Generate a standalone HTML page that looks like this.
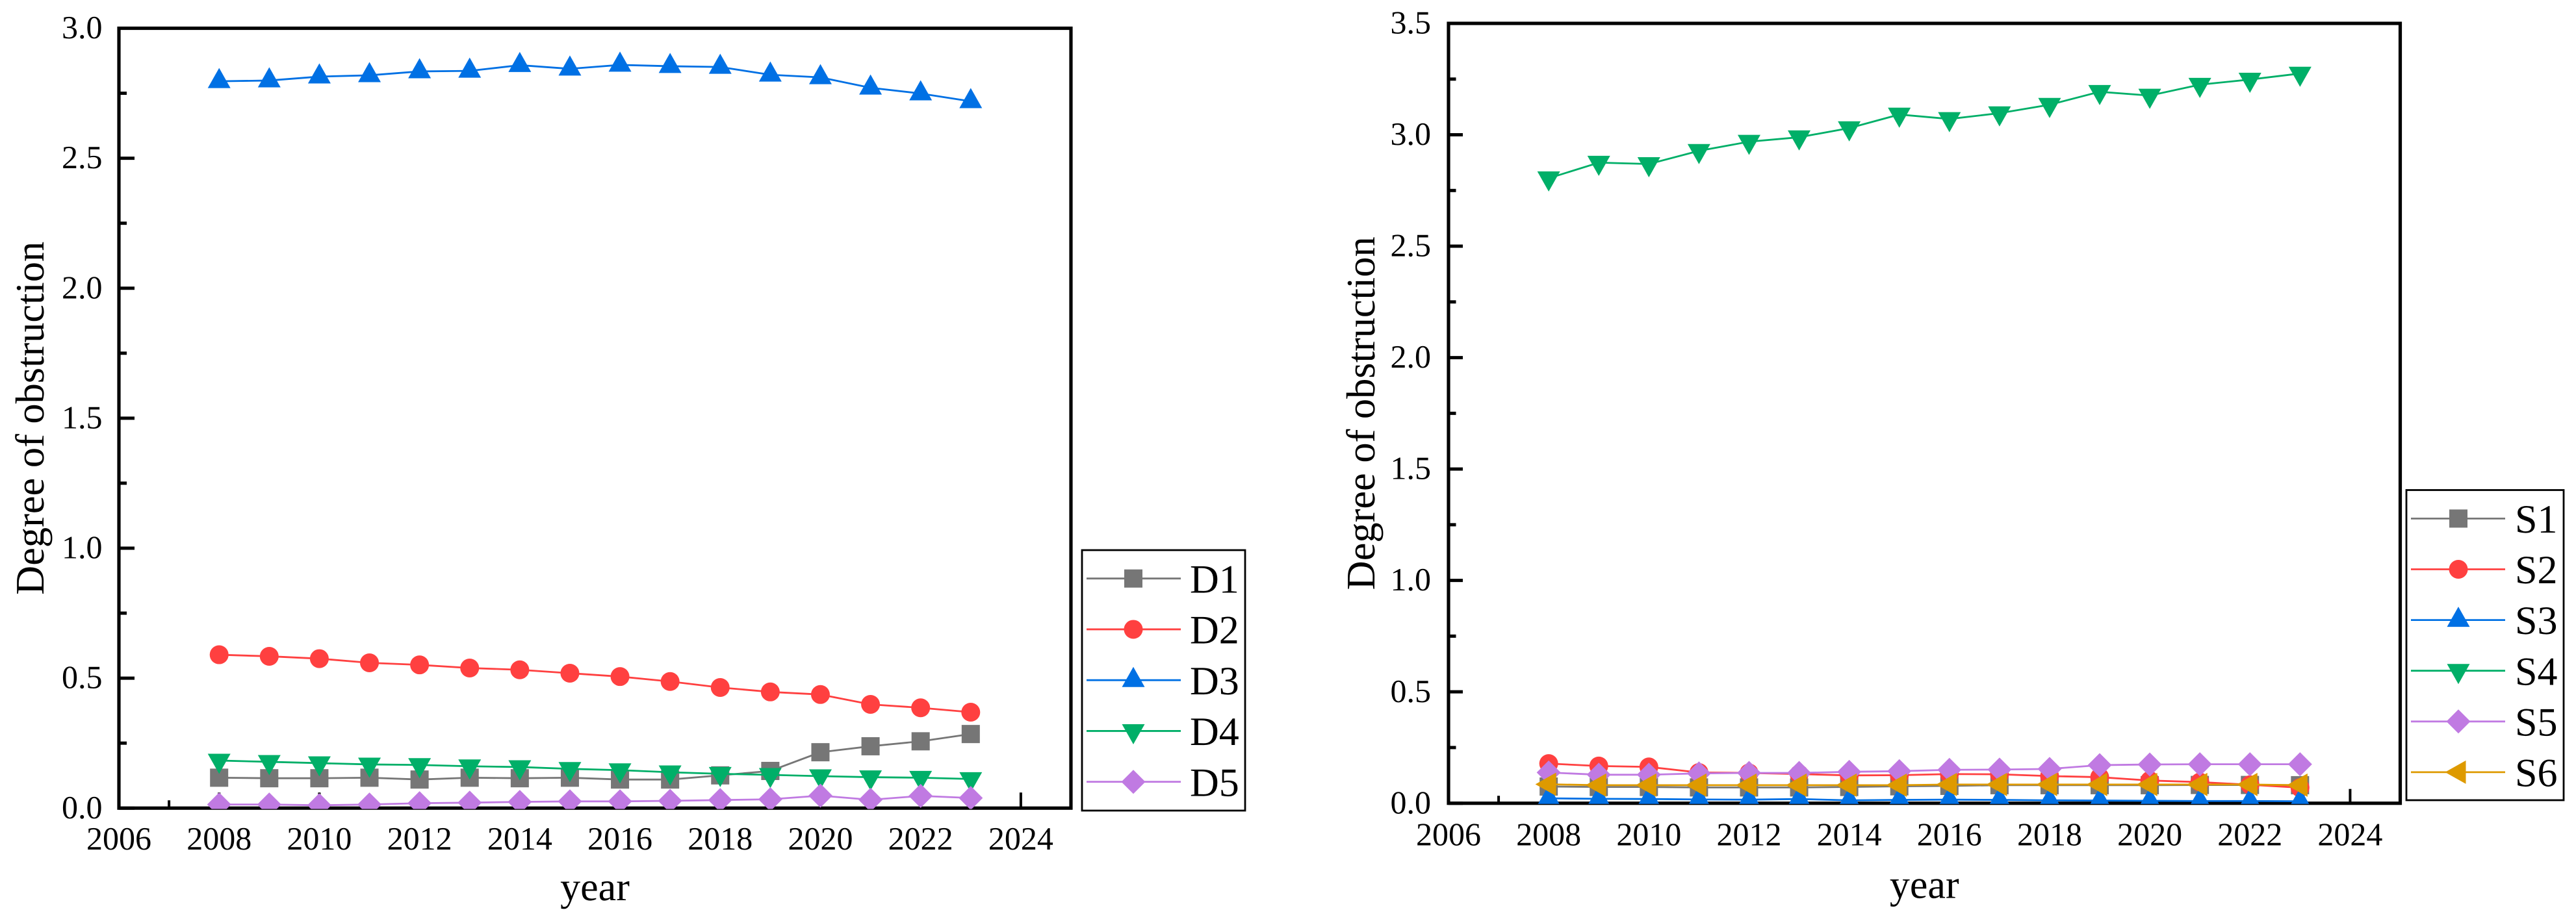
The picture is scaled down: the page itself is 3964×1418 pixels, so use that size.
<!DOCTYPE html>
<html lang="en">
<head>
<meta charset="utf-8">
<title>Degree of obstruction charts</title>
<style>
html,body{margin:0;padding:0;background:#fff;width:3964px;height:1418px;overflow:hidden}
svg{display:block}
text{font-family:"Liberation Serif","Times New Roman",serif;fill:#000;text-rendering:geometricPrecision}
</style>
</head>
<body>
<svg id="figure" xmlns="http://www.w3.org/2000/svg" width="3964" height="1418" viewBox="0 0 3964 1418">
<rect x="0" y="0" width="3964" height="1418" fill="#fff"/>
<defs>
<clipPath id="clip-left"><rect x="180" y="40" width="1472" height="1205.5"/></clipPath>
<clipPath id="clip-right"><rect x="2226" y="33" width="1471" height="1204.8"/></clipPath>
</defs>
</svg>
<script>
const years = [2008,2009,2010,2011,2012,2013,2014,2015,2016,2017,2018,2019,2020,2021,2022,2023];
const xTickLabels = [2006,2008,2010,2012,2014,2016,2018,2020,2022,2024];
const xMinorTicks = [2007,2009,2011,2013,2015,2017,2019,2021,2023];

const leftYTicks = ["0.0","0.5","1.0","1.5","2.0","2.5","3.0"];
const leftYMinor = [0.25,0.75,1.25,1.75,2.25,2.75];
const D1 = [0.117,0.115,0.115,0.117,0.110,0.117,0.115,0.117,0.110,0.110,0.126,0.143,0.215,0.238,0.257,0.285];
const D2 = [0.590,0.584,0.575,0.559,0.551,0.539,0.532,0.519,0.506,0.487,0.464,0.447,0.437,0.399,0.386,0.369];
const D3 = [2.796,2.799,2.814,2.819,2.834,2.836,2.858,2.844,2.859,2.854,2.851,2.821,2.811,2.771,2.749,2.719];
const D4 = [0.183,0.178,0.173,0.168,0.166,0.161,0.158,0.151,0.146,0.138,0.132,0.128,0.123,0.119,0.117,0.112];
const D5 = [0.014,0.014,0.011,0.014,0.019,0.021,0.024,0.026,0.026,0.028,0.031,0.034,0.048,0.032,0.047,0.039];

const rightYTicks = ["0.0","0.5","1.0","1.5","2.0","2.5","3.0","3.5"];
const rightYMinor = [0.25,0.75,1.25,1.75,2.25,2.75,3.25];
const S1 = [0.075,0.073,0.073,0.071,0.071,0.071,0.073,0.076,0.078,0.081,0.081,0.081,0.081,0.082,0.082,0.081];
const S2 = [0.178,0.167,0.163,0.138,0.136,0.131,0.125,0.126,0.131,0.130,0.122,0.117,0.102,0.095,0.083,0.070];
const S3 = [0.022,0.020,0.019,0.017,0.016,0.019,0.013,0.015,0.016,0.015,0.013,0.012,0.011,0.010,0.010,0.009];
const S4 = [2.805,2.875,2.869,2.928,2.969,2.989,3.030,3.091,3.071,3.097,3.135,3.193,3.176,3.225,3.248,3.275];
const S5 = [0.138,0.128,0.128,0.134,0.136,0.136,0.141,0.144,0.150,0.151,0.154,0.171,0.174,0.175,0.175,0.175];
const S6 = [0.085,0.081,0.081,0.081,0.081,0.081,0.081,0.081,0.084,0.084,0.084,0.084,0.084,0.084,0.084,0.081];

const leftNames = ["D1","D2","D3","D4","D5"];
const rightNames = ["S1","S2","S3","S4","S5","S6"];
const leftValues = [D1,D2,D3,D4,D5];
const rightValues = [S1,S2,S3,S4,S5,S6];
const leftStyles = ["square","circle","up","down","diamond"];
const rightStyles = ["square","circle","up","down","diamond","left"];
const leftColors = ["#767676","#FF4040","#0070E4","#00AF68","#C07AE2"];
const rightColors = ["#767676","#FF4040","#0070E4","#00AF68","#C07AE2","#DE9A00"];

const NS = "http://www.w3.org/2000/svg";
const root = document.getElementById("figure");

function make(tag, attrs, parent){
  const el = document.createElementNS(NS, tag);
  for (const k in attrs) el.setAttribute(k, attrs[k]);
  parent.appendChild(el);
  return el;
}

function markerPoints(kind, x, y){
  if (kind === "up") return [[x,y-20.5],[x+17.5,y+10.5],[x-17.5,y+10.5]];
  if (kind === "down") return [[x-17.5,y-10.5],[x+17.5,y-10.5],[x,y+20.5]];
  if (kind === "left") return [[x-20.5,y],[x+11.5,y-18],[x+11.5,y+18]];
  if (kind === "diamond") return [[x,y-18.5],[x+18.5,y],[x,y+18.5],[x-18.5,y]];
  return [];
}

function drawMarker(kind, x, y, color, parent){
  let el;
  if (kind === "square") {
    el = make("rect", {x:x-14, y:y-14, width:28, height:28, fill:color}, parent);
  } else if (kind === "circle") {
    el = make("circle", {cx:x, cy:y, r:14.5, fill:color}, parent);
  } else {
    el = make("polygon", {points:markerPoints(kind,x,y).map(p=>p.join(",")).join(" "), fill:color}, parent);
  }
  return el;
}

function drawChart(c){
  const xs = v => c.left + (v - 2006) * (c.right - c.left) / 19;
  const ys = v => c.bottom - v * (c.bottom - c.top) / c.yMax;

  const g = make("g", {}, root);
  
  

  const frame = make("rect", {x:c.left, y:c.top, width:c.right-c.left, height:c.bottom-c.top, fill:"none", stroke:"#000", "stroke-width":5.2}, g);
  
  

  // y axis
  c.yTicks.forEach(t => {
    const v = parseFloat(t);
    const y = ys(v);
    const tick = make("line", {x1:c.left, x2:c.left+c.majorLen, y1:y, y2:y, stroke:"#000", "stroke-width":5}, g);
    
    
    const lab = make("text", {x:c.yLabelX, y:y+15.6, "text-anchor":"end", "font-size":50}, g);
    lab.textContent = t;
    
    
  });
  c.yMinor.forEach(v => {
    const y = ys(v);
    const tick = make("line", {x1:c.left, x2:c.left+c.minorLen, y1:y, y2:y, stroke:"#000", "stroke-width":5}, g);
    
    
  });

  // x axis
  xTickLabels.forEach(t => {
    const x = xs(t);
    const tick = make("line", {x1:x, x2:x, y1:c.bottom, y2:c.bottom-c.majorLen, stroke:"#000", "stroke-width":4}, g);
    
    
    const lab = make("text", {x:x, y:c.xLabelY, "text-anchor":"middle", "font-size":50}, g);
    lab.textContent = String(t);
    
    
  });
  xMinorTicks.forEach(t => {
    const x = xs(t);
    const tick = make("line", {x1:x, x2:x, y1:c.bottom, y2:c.bottom-c.minorLen, stroke:"#000", "stroke-width":4}, g);
    
    
  });

  // titles
  const xt = make("text", {x:(c.left+c.right)/2, y:c.xTitleY, "text-anchor":"middle", "font-size":62}, g);
  xt.textContent = "year";
  
  
  const yt = make("text", {transform:"translate("+c.yTitleX+" "+(c.top+c.bottom)/2+") rotate(-90)", "text-anchor":"middle", "font-size":62.4}, g);
  yt.textContent = "Degree of obstruction";
  
  

  // series
  const plot = make("g", {"clip-path":"url(#"+c.clip+")"}, g);
  
  
  c.names.forEach((name, i) => {
    const s = make("g", {}, plot);
    
    
    const vals = c.values[i];
    const pts = years.map((yr, k) => xs(yr).toFixed(2) + "," + ys(vals[k]).toFixed(2)).join(" ");
    const line = make("polyline", {points:pts, fill:"none", stroke:c.colors[i], "stroke-width":2.8}, s);
    
    
    years.forEach((yr, k) => {
      const m = drawMarker(c.styles[i], xs(yr), ys(vals[k]), c.colors[i], s);
      
      
    });
  });

  // legend
  const L = c.legend;
  const lg = make("g", {}, root);
  
  
  const box = make("rect", {x:L.x0, y:L.y0, width:L.x1-L.x0, height:L.y1-L.y0, fill:"#fff", stroke:"#000", "stroke-width":2.8}, lg);
  
  
  c.names.forEach((name, i) => {
    const y = L.firstY + i * L.stepY;
    const e = make("g", {}, lg);
    
    
    const ln = make("line", {x1:L.lineX0, x2:L.lineX1, y1:y, y2:y, stroke:c.colors[i], "stroke-width":2.8}, e);
    
    
    const mk = drawMarker(c.styles[i], L.markerX, y, c.colors[i], e);
    
    
    const tx = make("text", {x:L.textX, y:y+21.6, "font-size":L.font}, e);
    tx.textContent = name;
    
    
  });
}

drawChart({
  id:"left", clip:"clip-left",
  left:183, right:1648, top:43.5, bottom:1244.2, yMax:3,
  majorLen:24, minorLen:12,
  yTicks:leftYTicks, yMinor:leftYMinor,
  yLabelX:157.5, xLabelY:1308, xTitleY:1386, yTitleX:67,
  names:leftNames, values:leftValues, styles:leftStyles, colors:leftColors,
  legend:{x0:1665,x1:1916,y0:847,y1:1248,firstY:890.7,stepY:78.25,lineX0:1672,lineX1:1817,markerX:1744,textX:1831,font:62}
});

drawChart({
  id:"right", clip:"clip-right",
  left:2229, right:3693.5, top:36, bottom:1236.7, yMax:3.5,
  majorLen:22, minorLen:11.5,
  yTicks:rightYTicks, yMinor:rightYMinor,
  yLabelX:2202, xLabelY:1301.7, xTitleY:1382.7, yTitleX:2115,
  names:rightNames, values:rightValues, styles:rightStyles, colors:rightColors,
  legend:{x0:3703,x1:3945,y0:754.5,y1:1232,firstY:798.4,stepY:78.1,lineX0:3710,lineX1:3855,markerX:3783,textX:3870,font:62}
});
</script>
</body>
</html>
